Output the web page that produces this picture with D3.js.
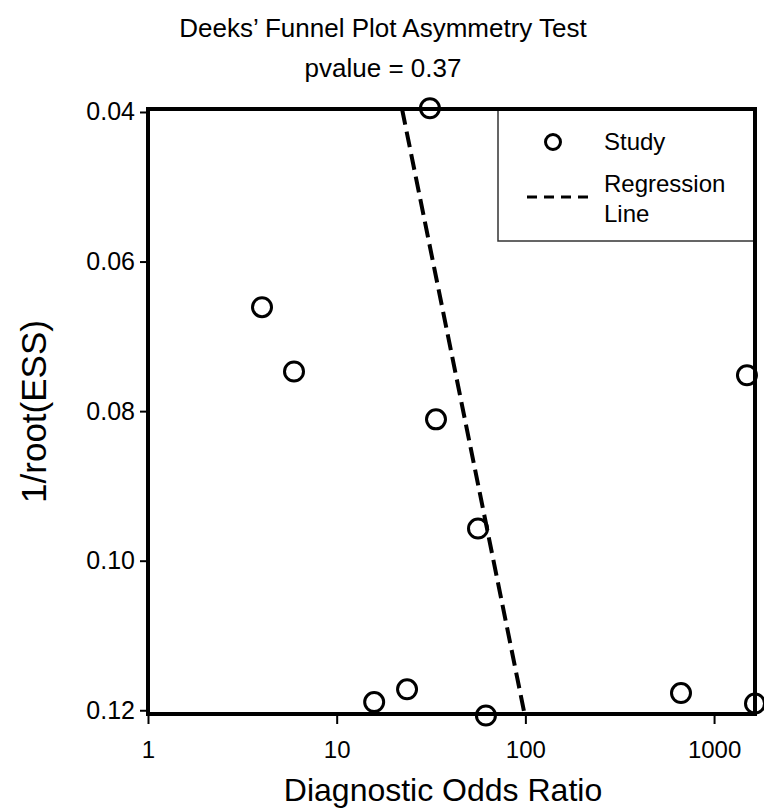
<!DOCTYPE html>
<html>
<head>
<meta charset="utf-8">
<script src="https://cdn.jsdelivr.net/npm/d3@7"></script>
<style>
  body { margin: 0; background: #fff; }
  svg { display: block; font-family: "Liberation Sans", Arial, sans-serif; }
</style>
</head>
<body>
<div id="chart"></div>
<script>
// studies: diagnostic odds ratio vs 1/sqrt(effective sample size)
const oddsRatio = [31.2, 4.02, 5.94, 33.6, 56.1, 15.8, 23.6, 61.8, 668, 1648, 1494];
const invRootEss = [0.0395, 0.0661, 0.0747, 0.0811, 0.0957, 0.1189, 0.1172, 0.1207, 0.1177, 0.1191, 0.0752];

// regression line end points
const regOdds = [22.2, 99];
const regEss = [0.0396, 0.1205];

const xTicks = [1, 10, 100, 1000];
const yTicks = [0.04, 0.06, 0.08, 0.10, 0.12];

const title = ["Deeks\u2019 Funnel Plot Asymmetry Test", "pvalue = 0.37"];
const legendLabels = ["Study", "Regression", "Line"];

const width = 764, height = 809;
const margin = {top: 109, right: 9, bottom: 95, left: 148};

const x = d3.scaleLog()
    .domain([1, 1648])
    .range([margin.left, width - margin.right]);

const y = d3.scaleLinear()
    .domain([0.0396, 0.1205])
    .range([margin.top, height - margin.bottom]);

const svg = d3.select("#chart").append("svg")
    .attr("width", width)
    .attr("height", height);

svg.append("defs").append("clipPath")
    .attr("id", "clip")
  .append("rect")
    .attr("x", margin.left)
    .attr("y", margin.top)
    .attr("width", width - margin.right - margin.left)
    .attr("height", height - margin.bottom - margin.top);

// axes
const xAxis = d3.axisBottom(x)
    .tickValues(xTicks)
    .tickFormat(d3.format("d"))
    .tickSize(10)
    .tickPadding(17);

const yAxis = d3.axisLeft(y)
    .tickValues(yTicks)
    .tickFormat(d3.format(".2f"))
    .tickSize(8)
    .tickPadding(5);

svg.append("g")
    .attr("transform", `translate(0,${height - margin.bottom})`)
    .call(xAxis)
    .call(g => g.select(".domain").remove())
    .call(g => g.selectAll("line").attr("stroke-width", 2))
    .call(g => g.selectAll("text").attr("font-size", 24).attr("fill", "#000"));

svg.append("g")
    .attr("transform", `translate(${margin.left},0)`)
    .call(yAxis)
    .call(g => g.select(".domain").remove())
    .call(g => g.selectAll("line").attr("stroke-width", 2))
    .call(g => g.selectAll("text").attr("font-size", 25).attr("fill", "#000"));

// regression line
const line = d3.line()
    .x(d => x(d[0]))
    .y(d => y(d[1]));

svg.append("path")
    .attr("clip-path", "url(#clip)")
    .attr("fill", "none")
    .attr("stroke", "#000")
    .attr("stroke-width", 4)
    .attr("stroke-dasharray", "16,7")
    .attr("d", line(d3.zip(regOdds, regEss)));

// legend box
const lg = svg.append("g");
lg.append("rect")
    .attr("x", 498)
    .attr("y", margin.top)
    .attr("width", width - margin.right - 498)
    .attr("height", 132)
    .attr("fill", "#fff")
    .attr("stroke", "#333")
    .attr("stroke-width", 1.5);
lg.append("circle")
    .attr("cx", 553).attr("cy", 142).attr("r", 7.5)
    .attr("fill", "none").attr("stroke", "#000").attr("stroke-width", 3);
lg.append("line")
    .attr("x1", 527).attr("x2", 588).attr("y1", 197).attr("y2", 197)
    .attr("stroke", "#000").attr("stroke-width", 3)
    .attr("stroke-dasharray", "10,7");
lg.selectAll("text")
    .data(legendLabels)
    .join("text")
    .attr("x", 604)
    .attr("y", (d, i) => [150, 192, 222][i])
    .attr("font-size", 24)
    .text(d => d);

// frame
svg.append("rect")
    .attr("x", margin.left)
    .attr("y", margin.top)
    .attr("width", width - margin.right - margin.left)
    .attr("height", height - margin.bottom - margin.top)
    .attr("fill", "none")
    .attr("stroke", "#000")
    .attr("stroke-width", 4);

// studies
svg.append("g")
    .selectAll("circle")
    .data(d3.zip(oddsRatio, invRootEss))
    .join("circle")
    .attr("cx", d => x(d[0]))
    .attr("cy", d => y(d[1]))
    .attr("r", 9.5)
    .attr("fill", "none")
    .attr("stroke", "#000")
    .attr("stroke-width", 3);

// titles
svg.append("text")
    .attr("text-anchor", "middle")
    .attr("font-size", 26)
    .selectAll("tspan")
    .data(title)
    .join("tspan")
    .attr("x", 383)
    .attr("y", (d, i) => 37 + i * 40)
    .text(d => d);

svg.append("text")
    .attr("x", 443)
    .attr("y", 801)
    .attr("text-anchor", "middle")
    .attr("font-size", 32)
    .text("Diagnostic Odds Ratio");

svg.append("text")
    .attr("transform", `translate(46,${(margin.top + height - margin.bottom) / 2}) rotate(-90)`)
    .attr("text-anchor", "middle")
    .attr("font-size", 35)
    .text("1/root(ESS)");
</script>
</body>
</html>
